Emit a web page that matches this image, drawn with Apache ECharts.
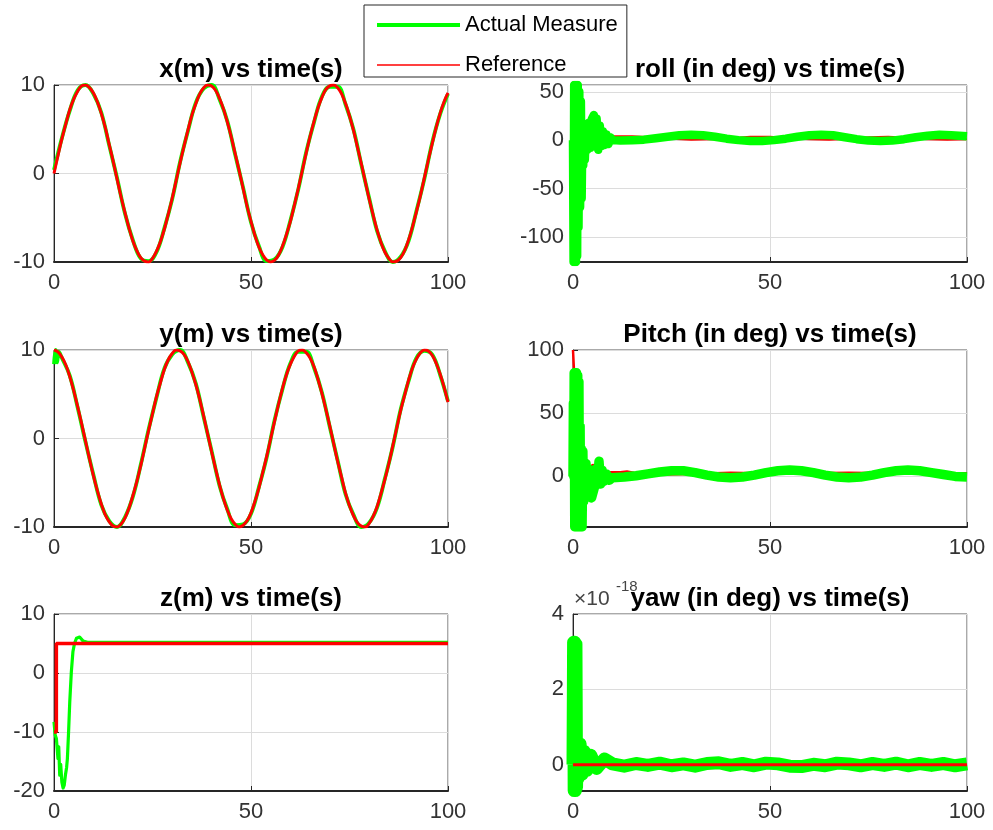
<!DOCTYPE html>
<html><head><meta charset="utf-8">
<script src="https://cdn.jsdelivr.net/npm/echarts@6/dist/echarts.min.js"></script>
<style>html,body{margin:0;padding:0;background:#fff}#chart{width:993px;height:830px}</style>
</head><body><div id="chart"></div>
<script>
// ---------- data ----------
const tRef1 = [0,1,2,3,4,5,6,7,8,9,10,11,12,13,14,15,16,17,18,19,20,21,22,23,24,25,26,27,28,29,30,31,32,33,34,35,36,37,38,39,40,41,42,43,44,45,46,47,48,49,50,51,52,53,54,55,56,57,58,59,60,61,62,63,64,65,66,67,68,69,70,71,72,73,74,75,76,77,78,79,80,81,82,83,84,85,86,87,88,89,90,91,92,93,94,95,96,97,98,99,100];
const xRef = [0,2.0,3.9,5.6,7.2,8.4,9.3,9.9,10.0,9.7,9.1,8.1,6.8,5.2,3.3,1.4,-0.6,-2.6,-4.4,-6.1,-7.6,-8.7,-9.5,-9.9,-10.0,-9.6,-8.8,-7.7,-6.3,-4.6,-2.8,-0.8,1.2,3.1,4.9,6.6,7.9,9.0,9.7,10.0,9.9,9.4,8.5,7.3,5.8,4.1,2.2,0.3,-1.7,-3.7,-5.4,-7.0,-8.3,-9.2,-9.8,-10.0,-9.8,-9.2,-8.2,-6.9,-5.4,-3.6,-1.7,0.3,2.3,4.2,5.9,7.4,8.6,9.5,9.9,10.0,9.7,9.0,7.9,6.5,4.9,3.0,1.1,-0.9,-2.9,-4.7,-6.4,-7.8,-8.9,-9.6,-10.0,-9.9,-9.5,-8.7,-7.5,-6.0,-4.3,-2.5,-0.5,1.5,3.4,5.2,6.8,8.1,9.1];
const yRef = [10,9.8,9.2,8.3,7.0,5.4,3.6,1.7,-0.3,-2.3,-4.2,-5.9,-7.4,-8.6,-9.4,-9.9,-10.0,-9.7,-9.0,-7.9,-6.5,-4.9,-3.1,-1.1,0.9,2.8,4.7,6.3,7.8,8.9,9.6,10.0,9.9,9.5,8.7,7.5,6.1,4.4,2.5,0.5,-1.5,-3.4,-5.2,-6.8,-8.1,-9.1,-9.7,-10.0,-9.8,-9.3,-8.4,-7.1,-5.6,-3.8,-2.0,0.0,2.0,3.9,5.7,7.2,8.4,9.3,9.9,10.0,9.7,9.1,8.1,6.7,5.1,3.3,1.4,-0.6,-2.6,-4.4,-6.2,-7.6,-8.7,-9.5,-9.9,-10.0,-9.6,-8.8,-7.7,-6.2,-4.6,-2.8,-0.8,1.2,3.2,4.9,6.6,8.0,9.0,9.7,10.0,9.9,9.4,8.5,7.3,5.8,4.1];
const tXAct = [0,2,4,6,8,10,12,14,16,18,20,22,24,26,28,30,32,34,36,38,40,42,44,46,48,50,52,54,56,58,60,62,64,66,68,70,72,74,76,78,80,82,84,86,88,90,92,94,96,98,100];
const xAct = [0.4,4.0,7.1,9.4,10.0,9.0,6.9,3.2,-0.5,-4.5,-7.5,-9.6,-9.9,-8.9,-6.2,-2.9,1.3,4.8,8.0,9.6,10.0,8.4,5.9,2.1,-1.6,-5.5,-8.2,-9.9,-9.7,-8.3,-5.3,-1.8,2.4,5.8,8.7,9.8,9.8,7.8,5.0,1.0,-2.8,-6.5,-8.8,-10.0,-9.4,-7.6,-4.2,-0.6,3.5,6.7,9.0];
const tYAct = [0,0.4,0.8,1.2,2,4,6,8,10,12,14,16,18,20,22,24,26,28,30,32,34,36,38,40,42,44,46,48,50,52,54,56,58,60,62,64,66,68,70,72,74,76,78,80,82,84,86,88,90,92,94,96,98,100];
const yAct = [8.4,10.0,8.6,9.8,9.1,7.1,3.5,-0.4,-4.1,-7.5,-9.3,-10.0,-8.9,-6.6,-3.0,1.0,4.6,7.9,9.5,10.0,8.6,6.2,2.4,-1.4,-5.3,-8.0,-9.8,-9.7,-8.5,-5.5,-2.1,2.1,5.6,8.5,9.8,9.8,8.0,5.2,1.3,-2.5,-6.3,-8.6,-10.0,-9.5,-7.8,-4.5,-0.9,3.3,6.5,9.1,9.9,9.5,7.2,4.2];

const tZAct = [0,0.3,0.6,1.0,1.2,1.45,1.7,2.0,2.3,2.6,2.9,3.2,3.4,3.7,4.0,4.4,4.8,5.2,5.7,6.5,7.4,8.5,10,100];
const zAct  = [-8.3,-10.5,-11.1,-14.5,-12.5,-17.3,-15.5,-18.5,-19.5,-19,-17.3,-16,-14.5,-10,-4.9,0.2,3.6,5,5.9,6.1,5.4,5.2,5.2,5.2];
const tZRef = [0,0.6,0.6,100];
const zRef  = [-10,-10,5,5];

const tRollAct = [0,0.15,0.3,0.45,0.6,0.75,0.9,1.05,1.2,1.4,1.6,1.8,2.0,2.2,2.4,2.6,2.8,3.0,3.3,3.6,4.0,4.4,4.8,5.3,5.6,6.0,6.4,6.8,7.2,7.6,8.0,8.5,9.0,9.5,10,12,15,18,21,24,27,30,33,36,39,42,45,48,51,54,57,60,63,66,69,72,75,78,81,84,87,90,93,96,100];
const rollAct  = [0,-126,57,-126,57,-126,57,-120,57,-90,50,-69,40,-60,17,-26,15,-20,12,-10,18,-8,22,26,-5,22,-10,15,-6,9,-5,6,-4,3,0,-0.5,0,0.5,2,3.5,5,5.5,5,3.5,1.5,0,-1,-1,0,1.5,3.5,5,5.5,5,3,1,-0.5,-1,-0.5,1,3,4.5,5.5,5,4];
const tRollRef = [0,1.5,2.3,2.6,3.0,4.2,5.0,5.8,6.6,7.5,8.5,9.5,15,20,25,30,35,40,45,50,55,60,65,70,75,80,85,90,95,100];
const rollRef  = [0,-10,-26,-20,-5,-3.5,2,-3,-7,0,3,4,4,3,1.5,0.5,0.8,2,3.4,3.4,2,0.8,0.5,1.5,3,3.5,2.5,1,0.5,1];

const tPitchAct = [0,0.1,0.2,0.3,0.45,0.6,0.75,0.9,1.05,1.2,1.35,1.5,1.65,1.8,1.95,2.1,2.3,2.5,2.7,2.9,3.1,3.3,3.5,3.8,4.2,4.7,5.1,5.5,5.8,6.2,6.6,7.0,7.4,7.8,8.5,9.2,10,13,16,19,22,25,28,31,34,37,40,43,46,49,52,55,58,61,64,67,70,73,76,79,82,85,88,91,94,97,100];
const pitchAct  = [0,58,0,82,-40,82,-40,82,-40,80,-40,75,-40,40,-40,22,-40,20,-20,11,-7,10,-5,6,-10,-17,-17,-8,6,-5,12,-6,5,-4,2,-3,-1,-0.5,0.5,2,3.5,4.5,4.5,3,1,-0.5,-1,-0.5,1,3,4.5,5,4.5,3,1,-0.5,-1,-0.5,1,3,4.5,5,4.5,3,1.5,0,-0.5];
const tPitchRef = [0,0.25,0.25,1.4,1.7,2.3,3.0,4.0,5.0,6.0,6.8,7.5,8.7,12,13.7,17,20.5,30,40,50,60,70,80,90,100];
const pitchRef  = [100,100,84,84,40,22,15,7,9,8,10,5,3.4,3.4,3.9,2,1.3,2,3,2.4,2.5,3,2.5,2.5,2.5];

// yaw values in units of 1e-18 deg
const tYawAct = [0,0.15,0.3,0.45,0.6,0.75,0.9,1.1,1.4,1.8,2.3,2.8,3.5,4.5,6,8,10,13,16,19,22,25,28,31,34,37,40,43,46,49,52,55,58,61,64,67,70,73,76,79,82,85,88,91,94,97,100];
const yawAct  = [0,3.25,-0.69,3.25,-0.69,3.2,-0.6,0.6,-0.35,0.55,-0.25,0.35,-0.15,0.25,-0.1,0.15,0.02,-0.04,0.03,-0.02,0.04,-0.03,0.02,-0.04,0.03,0.05,-0.02,0.03,-0.03,0.04,0.02,-0.04,-0.05,0.01,-0.03,0.04,0.02,-0.03,0.03,-0.02,0.04,-0.03,0.03,-0.02,0.03,-0.03,0.02];
const tYawRef = [0,100];
const yawRef  = [0,0];

const titles = ['x(m) vs time(s)','y(m) vs time(s)','z(m) vs time(s)','roll (in deg) vs time(s)','Pitch (in deg) vs time(s)','yaw (in deg) vs time(s)'];
const legendNames = ['Actual Measure','Reference'];
const xTicks = [0, 100, 50]; // min, max, interval

// ---------- chart ----------
const FONT = '"Liberation Sans", Arial, Helvetica, sans-serif';
const GREEN = '#00ff00', RED = '#ff0000', AX = '#262626';
const pair = (t, v) => t.map((x, i) => [x, v[i]]);

const gridPos = [
  {left:54, top:85}, {left:54, top:350}, {left:54, top:614},
  {left:573, top:85}, {left:573, top:350}, {left:573, top:614}
];
const yCfg = [
  {min:-10, max:10, interval:10},
  {min:-10, max:10, interval:10},
  {min:-20, max:10, interval:10},
  {min:-126, max:57, splitNumber:4, step:50},
  {min:-40, max:100, splitNumber:3, step:50},
  {min:-0.7, max:4, splitNumber:2, step:2}
];

const grids = gridPos.map(g => ({left:g.left, top:g.top, width:394, height:177, show:true,
  borderColor:'#555', borderWidth:1, backgroundColor:'#fff', containLabel:false}));

const labelStyle = {fontFamily:FONT, fontSize:22, color:'#333'};
const xAxes = gridPos.map((g, i) => ({
  type:'value', gridIndex:i, min:xTicks[0], max:xTicks[1], interval:xTicks[2],
  axisLine:{show:true, onZero:false, lineStyle:{color:AX, width:2}},
  axisTick:{show:true, inside:true, length:5, lineStyle:{color:AX}},
  axisLabel:Object.assign({margin:10}, labelStyle),
  splitLine:{show:true, lineStyle:{color:'#dcdcdc', width:1}}
}));
const yAxes = yCfg.map((c, i) => {
  const a = {
    type:'value', gridIndex:i, min:c.min, max:c.max,
    axisLine:{show:true, onZero:false, lineStyle:{color:AX, width:1}},
    axisTick:{show:true, inside:true, length:5, lineStyle:{color:AX}},
    axisLabel:Object.assign({margin:9}, labelStyle),
    splitLine:{show:true, lineStyle:{color:'#dcdcdc', width:1}}
  };
  if (c.interval) a.interval = c.interval;
  else {
    a.splitNumber = c.splitNumber;
    a.axisLabel.formatter = v => (Math.abs(v / c.step - Math.round(v / c.step)) < 1e-6 ? String(Math.round(v)) : '');
    a.axisLabel.showMinLabel = false;
  }
  return a;
});

const actT = [tXAct, tYAct, tZAct, tRollAct, tPitchAct, tYawAct];
const actV = [xAct, yAct, zAct, rollAct, pitchAct, yawAct];
const refT = [tRef1, tRef1, tZRef, tRollRef, tPitchRef, tYawRef];
const refV = [xRef, yRef, zRef, rollRef, pitchRef, yawRef];
const actW = [3.8, 3.8, 3.2, 8.5, 9.5, 13];
const refW = [3, 3, 3.5, 2, 2.5, 3];
const greenOnTop = [false, false, false, true, true, false];
const smoothOn = [0.4, 0.4, false, false, false, false];

const series = [];
for (let i = 0; i < 6; i++) {
  series.push({
    name:legendNames[0], type:'line', xAxisIndex:i, yAxisIndex:i, data:pair(actT[i], actV[i]),
    symbol:'none', smooth:smoothOn[i], silent:true, z: greenOnTop[i] ? 5 : 3,
    lineStyle:{color:GREEN, width:actW[i], join:'round'}, itemStyle:{color:GREEN}
  });
  series.push({
    name:legendNames[1], type:'line', xAxisIndex:i, yAxisIndex:i, data:pair(refT[i], refV[i]),
    symbol:'none', smooth:smoothOn[i], silent:true, z: greenOnTop[i] ? 3 : 5,
    lineStyle:{color:RED, width:refW[i]}, itemStyle:{color:RED}
  });
}

const titleCfg = titles.map((t, i) => ({
  text:t, left: gridPos[i].left + 197, top: gridPos[i].top - 29, textAlign:'center', padding:0,
  textStyle:{fontFamily:FONT, fontSize:26, fontWeight:'bold', color:'#000', lineHeight:28}
}));

const hidden = {color:'rgba(0,0,0,0)', borderColor:'rgba(0,0,0,0)', borderWidth:0, opacity:0};
const chart = echarts.init(document.getElementById('chart'), null, {renderer:'canvas'});
chart.setOption({
  animation:false,
  backgroundColor:'#fff',
  title:titleCfg,
  grid:grids,
  xAxis:xAxes,
  yAxis:yAxes,
  legend:{
    data:[{name:legendNames[0], lineStyle:{width:4, color:GREEN}, itemStyle:hidden},
          {name:legendNames[1], lineStyle:{width:1.5, color:RED}, itemStyle:hidden}],
    orient:'vertical', left:364, top:5, itemWidth:83, itemHeight:14, itemGap:16,
    padding:[8,9,0,11], backgroundColor:'#fff', borderColor:AX, borderWidth:1, borderRadius:0,
    selectedMode:false, z:20,
    textStyle:{fontFamily:FONT, fontSize:22, color:'#000', lineHeight:24}
  },
  graphic:[
    {type:'text', left:574, top:589, z:1, style:{text:'\u00d710', font:'21px ' + FONT, fill:'#444'}},
    {type:'text', left:616, top:579, z:1, style:{text:'-18', font:'15px ' + FONT, fill:'#444'}}
  ],
  series:series
});
</script></body></html>
